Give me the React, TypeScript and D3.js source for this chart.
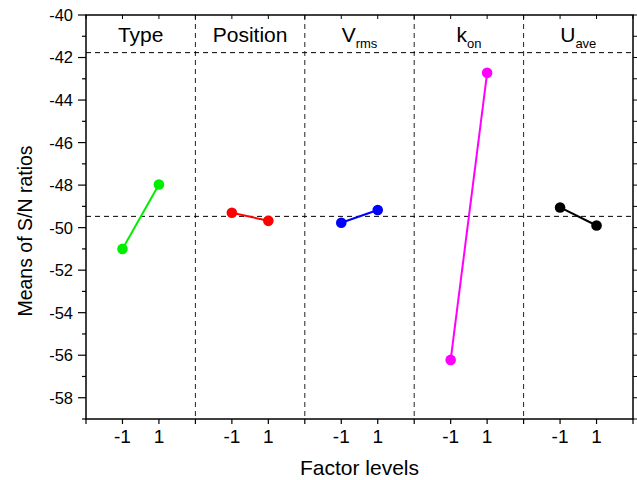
import * as d3 from 'd3';

// factor panels, in order
const factors = ['Type', 'Position', 'Vrms', 'kon', 'Uave'];
const titleMain = ['Type', 'Position', 'V', 'k', 'U'];
const titleSub = ['', '', 'rms', 'on', 'ave'];
const colors = ['#00ee00', '#ff0000', '#0000ff', '#ff00ff', '#000000'];
const levels = ['-1', '1'];
// mean S/N at level -1 and level 1
const lowLevel = [-51.0, -49.3, -49.77, -56.22, -49.05];
const highLevel = [-47.97, -49.68, -49.17, -42.72, -49.9];
const refLines = [-41.77, -49.47];
const yTicks = [-58, -56, -54, -52, -50, -48, -46, -44, -42, -40];

const W = 637;
const H = 480;
const margin = { top: 15, right: 4, bottom: 61, left: 86 };

export default function App() {
  const x = d3.scaleLinear().domain([0, factors.length * 3]).range([margin.left, W - margin.right]);
  const y = d3.scaleLinear().domain([-59, -40]).range([H - margin.bottom, margin.top]);
  const [x0, x1] = x.range();
  const [y0, y1] = y.range();
  const minorY = d3.range(-59, -39, 1);
  const allX = d3.range(0, factors.length * 3 + 1, 1);
  const font = "'Liberation Sans', Arial, sans-serif";

  return (
    <svg width={W} height={H} style={{ position: 'absolute', left: 0, top: 0 }} fontFamily={font}>
      <rect x={0} y={0} width={W} height={H} fill="#fff" />
      {/* dividers */}
      {d3.range(1, factors.length).map(i => (
        <line key={'d' + i} x1={x(i * 3)} x2={x(i * 3)} y1={y1} y2={y0} stroke="#222" strokeWidth={1} strokeDasharray="5,4" />
      ))}
      {refLines.map((v, i) => (
        <line key={'r' + i} x1={x0} x2={x1} y1={y(v)} y2={y(v)} stroke="#000" strokeWidth={1} strokeDasharray="5,4" />
      ))}
      {/* panel titles */}
      {factors.map((f, i) => (
        <text key={f} x={x(i * 3 + 1.5)} y={42} textAnchor="middle" fontSize={21}>
          {titleMain[i]}
          {titleSub[i] && <tspan fontSize={13} dy={6}>{titleSub[i]}</tspan>}
        </text>
      ))}
      {/* series */}
      {factors.map((f, i) => {
        const pts: [number, number][] = [
          [x(i * 3 + 1), y(lowLevel[i])],
          [x(i * 3 + 2), y(highLevel[i])],
        ];
        return (
          <g key={'s' + f}>
            <path d={d3.line()(pts) || ''} stroke={colors[i]} strokeWidth={2} fill="none" />
            {pts.map((p, j) => (
              <circle key={j} cx={p[0]} cy={p[1]} r={5.3} fill={colors[i]} />
            ))}
          </g>
        );
      })}
      {/* frame */}
      <rect x={x0} y={y1} width={x1 - x0} height={y0 - y1} fill="none" stroke="#000" strokeWidth={1.5} />
      {/* y axis ticks */}
      {minorY.map(v => {
        const major = yTicks.includes(v);
        return (
          <g key={'yt' + v}>
            <line x1={x0} x2={x0 - (major ? 8 : 4)} y1={y(v)} y2={y(v)} stroke="#000" strokeWidth={1.2} />
            <line x1={x1} x2={x1 + 4} y1={y(v)} y2={y(v)} stroke="#000" strokeWidth={1} />
          </g>
        );
      })}
      {yTicks.map(v => (
        <text key={'yl' + v} x={x0 - 13} y={y(v)} dy="0.36em" textAnchor="end" fontSize={16.5}>
          {v}
        </text>
      ))}
      {/* x axis ticks */}
      {allX.map(v => (
        <g key={'xt' + v}>
          <line x1={x(v)} x2={x(v)} y1={y0} y2={y0 + 5} stroke="#000" strokeWidth={1.2} />
          <line x1={x(v)} x2={x(v)} y1={y1} y2={y1 + 4} stroke="#000" strokeWidth={1} />
        </g>
      ))}
      {factors.map((f, i) =>
        levels.map((l, j) => (
          <text key={'xl' + f + j} x={x(i * 3 + 1 + j)} y={443} textAnchor="middle" fontSize={19}>
            {l}
          </text>
        ))
      )}
      <text x={(x0 + x1) / 2} y={475} textAnchor="middle" fontSize={21}>
        Factor levels
      </text>
      <text transform={`translate(32,231) rotate(-90)`} textAnchor="middle" fontSize={19.5}>
        Means of S/N ratios
      </text>
    </svg>
  );
}
